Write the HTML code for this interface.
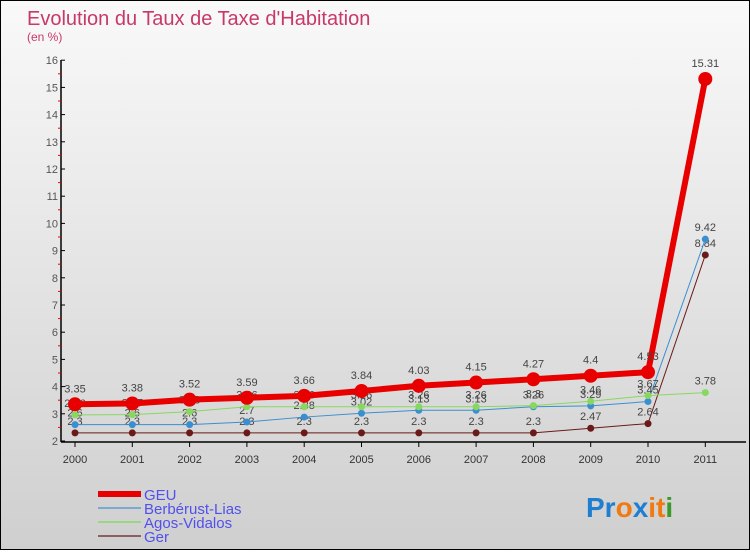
<!DOCTYPE html>
<html><head><meta charset="utf-8"><style>
html,body{margin:0;padding:0}
body{width:750px;height:550px;overflow:hidden;font-family:"Liberation Sans",sans-serif}
#wrap{position:relative;width:748px;height:548px;border:1px solid #000;background:linear-gradient(#f9f9f9,#cfcfcf)}
</style></head><body>
<div id="wrap">
<svg id="chart" width="748" height="548">
<text x="26" y="24" font-size="20" fill="#c8386a">Evolution du Taux de Taxe d'Habitation</text>
<text x="26" y="40" font-size="12" fill="#c8386a">(en %)</text>
<g id="axes"></g><g id="series"></g><g id="legend"></g>
<text x="585" y="516" font-size="28" font-weight="bold" fill="#1e7fd0">Pr<tspan fill="#f07a10">o</tspan><tspan fill="#1e7fd0">x</tspan><tspan fill="#f07a10">it</tspan><tspan fill="#3a9a2a">i</tspan></text>
</svg></div>
<script>
const years=["2000","2001","2002","2003","2004","2005","2006","2007","2008","2009","2010","2011"];
const geu=[3.35,3.38,3.52,3.59,3.66,3.84,4.03,4.15,4.27,4.4,4.53,15.31];
const berberust=[2.6,2.6,2.6,2.7,2.88,3.02,3.13,3.13,3.26,3.29,3.45,9.42];
const agos=[2.96,2.97,3.08,3.26,3.26,3.26,3.26,3.26,3.3,3.46,3.67,3.78];
const ger=[2.3,2.3,2.3,2.3,2.3,2.3,2.3,2.3,2.3,2.47,2.64,8.84];
const yTicks=[2,3,4,5,6,7,8,9,10,11,12,13,14,15,16];
const NS="http://www.w3.org/2000/svg";
const xs=i=>74+i*57.3, ys=v=>440-(v-2)*27.2;
function mk(t,a,p){const e=document.createElementNS(NS,t);for(const k in a)e.setAttribute(k,a[k]);p.appendChild(e);return e;}
const ax=document.getElementById('axes');
let yl=mk('line',{x1:60,y1:59,x2:60,y2:441,stroke:'#000','stroke-width':1.5},ax);


let xl=mk('line',{x1:60,y1:441,x2:745,y2:441,stroke:'#000','stroke-width':1.5},ax);


yTicks.forEach(v=>{const y=ys(v);
 mk('line',{x1:60,y1:y,x2:64,y2:y,stroke:'#000'},ax);
 if(v<16)mk('line',{x1:57,y1:ys(v+0.5),x2:60,y2:ys(v+0.5),stroke:'#e00'},ax);
 const t=mk('text',{x:57,y:y+4,'font-size':11,fill:'#555','text-anchor':'end'},ax);t.textContent=v;
 
 });
years.forEach((yr,i)=>{const x=xs(i);
 mk('line',{x1:x,y1:441,x2:x,y2:446,stroke:'#000'},ax);
 const t=mk('text',{x:x,y:462,'font-size':11,fill:'#333','text-anchor':'middle'},ax);t.textContent=yr;
 
 });
const sg=document.getElementById('series');
const defs=[["ger",ger,"#6b1a1a",1,3.5,"series-ger"],["berberust",berberust,"#3a8fd0",1,3.5,"series-berberust-lias"],["agos",agos,"#88d860",1,3.5,"series-agos-vidalos"],["geu",geu,"#e80000",6,7,"series-geu"]];
defs.forEach(([k,d,c,w,r,n])=>{
 const g=mk('g',{},sg);
 
 
 mk('polyline',{points:d.map((v,i)=>xs(i)+','+ys(v)).join(' '),fill:'none',stroke:c,'stroke-width':w,'stroke-linejoin':'round'},g);
 d.forEach((v,i)=>{const p=mk('circle',{cx:xs(i),cy:ys(v),r:r,fill:c},g);
  
  
  const t=mk('text',{x:xs(i),y:ys(v)-(k==='geu'?12:8),'font-size':11,fill:'#444','text-anchor':'middle'},g);t.textContent=v;
  
  });
});
const lg=document.getElementById('legend');
const items=[["GEU","#e80000",6],["Berbérust-Lias","#7aaad0",2],["Agos-Vidalos","#98d880",2],["Ger","#8a6060",2]];
items.forEach(([lab,c,w],i)=>{const y=493+i*14;
 const g=mk('g',{},lg);
 
 
 mk('rect',{x:97,y:y-w/2,width:43,height:w,fill:c},g);
 const t=mk('text',{x:143,y:y+6,'font-size':15,fill:'#5050ee'},g);t.textContent=lab;});
</script>
</body></html>
